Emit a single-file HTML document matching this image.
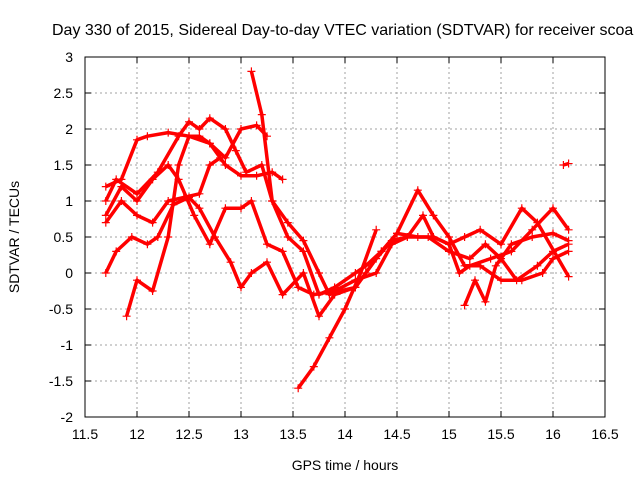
<!DOCTYPE html>
<html><head><meta charset="utf-8"><style>
body{margin:0;background:#fff}
svg text{font-family:"Liberation Sans",sans-serif;font-size:14px;fill:#000}
</style></head><body>
<svg id="chart" width="640" height="480">
<text x="52" y="35" style="font-size:16px">Day 330 of 2015, Sidereal Day-to-day VTEC variation (SDTVAR) for receiver scoa</text>
<text x="345" y="470" text-anchor="middle">GPS time / hours</text>
<text transform="translate(19,237) rotate(-90)" text-anchor="middle">SDTVAR / TECUs</text>
<g id="grid"></g><g id="axes"></g><g id="series"></g>
</svg>
<script>
const xTicks=[11.5,12,12.5,13,13.5,14,14.5,15,15.5,16,16.5];
const yTicks=[-2,-1.5,-1,-0.5,0,0.5,1,1.5,2,2.5,3];
const xTickLabels=["11.5","12","12.5","13","13.5","14","14.5","15","15.5","16","16.5"];
const yTickLabels=["-2","-1.5","-1","-0.5","0","0.5","1","1.5","2","2.5","3"];
const s1=[[11.7,0],[11.8,0.3],[11.95,0.5],[12.1,0.4],[12.2,0.5],[12.35,0.95],[12.5,1.05],[12.6,0.9],[12.75,0.5],[12.9,0.15],[13.0,-0.2],[13.1,0],[13.25,0.15],[13.4,-0.3],[13.6,0],[13.75,-0.6],[13.9,-0.3],[14.1,-0.2],[14.3,0.2],[14.45,0.45],[14.6,0.5],[14.75,0.8],[14.85,0.5],[15.0,0.4],[15.1,0],[15.2,0.1],[15.4,0.2],[15.6,0.3],[15.8,0.6],[16.0,0.9],[16.15,0.6]];
const s2=[[11.7,1.0],[11.8,1.3],[12.0,1.1],[12.2,1.4],[12.4,1.9],[12.5,2.1],[12.6,2.0],[12.7,2.15],[12.85,2.0],[12.95,1.7],[13.05,1.4],[13.2,1.5],[13.3,1.0],[13.45,0.5],[13.6,0.3],[13.75,-0.3],[13.9,-0.2],[14.1,0],[14.2,0.1],[14.35,0.3],[14.5,0.55],[14.7,1.15],[14.85,0.8],[15.0,0.5],[15.15,0.1],[15.3,0.1],[15.5,-0.1],[15.7,-0.1],[15.9,0],[16.0,0.2],[16.15,0.3]];
const s3=[[11.7,0.8],[11.85,1.2],[12.0,1.0],[12.15,1.3],[12.3,1.5],[12.4,1.3],[12.55,0.8],[12.7,0.4],[12.85,0.9],[13.0,0.9],[13.1,1.0],[13.25,0.4],[13.4,0.3],[13.55,-0.2],[13.7,-0.3],[13.9,-0.25],[14.1,-0.1],[14.3,0],[14.45,0.4],[14.6,0.5],[14.8,0.5],[15.0,0.3],[15.2,0.2],[15.35,0.4],[15.5,0.2],[15.65,-0.1],[15.85,0.1],[16.0,0.3],[16.15,0.4]];
const s4=[[11.7,1.2],[11.85,1.3],[12.0,1.85],[12.1,1.9],[12.3,1.95],[12.5,1.9],[12.7,1.8],[12.85,1.5],[13.0,1.35],[13.15,1.35],[13.3,1.4],[13.4,1.3]];
const s5=[[11.7,0.7],[11.85,1.0],[12.0,0.8],[12.15,0.7],[12.3,1.0],[12.45,1.05],[12.6,1.1],[12.7,1.5],[12.8,1.6]];
const s6=[[11.9,-0.6],[12.0,-0.1],[12.15,-0.25],[12.3,0.5],[12.4,1.5],[12.5,1.9],[12.6,1.9],[12.7,1.8],[12.85,1.6],[13.0,2.0],[13.15,2.05],[13.25,1.9]];
const s7=[[13.1,2.8],[13.2,2.2],[13.3,1.0],[13.45,0.7],[13.6,0.45],[13.75,0.0],[13.85,-0.3],[13.95,-0.25],[14.1,-0.2],[14.2,0],[14.35,0.3],[14.5,0.55],[14.7,0.5],[14.85,0.5],[15.0,0.4],[15.15,0.5],[15.3,0.6],[15.5,0.4],[15.7,0.9],[15.85,0.7],[16.15,-0.05]];
const s8=[[13.55,-1.6],[13.7,-1.3],[13.85,-0.9],[14.0,-0.5],[14.15,0],[14.3,0.6]];
const s9=[[15.15,-0.45],[15.25,-0.1],[15.35,-0.4],[15.45,0.1],[15.6,0.4],[15.8,0.5],[16.0,0.55],[16.15,0.45]];
const s10=[[16.1,1.5],[16.15,1.52]];
const allSeries=[s1,s2,s3,s4,s5,s6,s7,s8,s9,s10];
const L=85,R=605,T=57,B=417,X0=11.5,X1=16.5,Y0=-2,Y1=3;
const sx=v=>L+(v-X0)/(X1-X0)*(R-L);
const sy=v=>B-(v-Y0)/(Y1-Y0)*(B-T);
const NS="http://www.w3.org/2000/svg";
function mk(tag,at,parent){const e=document.createElementNS(NS,tag);for(const k in at)e.setAttribute(k,at[k]);parent.appendChild(e);return e;}
const grid=document.getElementById('grid'),axes=document.getElementById('axes'),ser=document.getElementById('series');
xTicks.forEach((t,i)=>{const x=sx(t);
 if(i>0&&i<xTicks.length-1){const g=mk('line',{x1:x,x2:x,y1:T,y2:B,stroke:'#a0a0a0','stroke-dasharray':'2,3','stroke-width':1},grid);
 
 }
 mk('line',{x1:x,x2:x,y1:B,y2:B-6,stroke:'#000'},axes);mk('line',{x1:x,x2:x,y1:T,y2:T+6,stroke:'#000'},axes);
 const tx=mk('text',{x:x,y:B+22,'text-anchor':'middle'},axes);tx.textContent=xTickLabels[i];
 
 });
yTicks.forEach((t,i)=>{const y=sy(t);
 if(i>0&&i<yTicks.length-1){const g=mk('line',{x1:L,x2:R,y1:y,y2:y,stroke:'#a0a0a0','stroke-dasharray':'2,3','stroke-width':1},grid);
 
 }
 mk('line',{x1:L,x2:L+6,y1:y,y2:y,stroke:'#000'},axes);mk('line',{x1:R,x2:R-6,y1:y,y2:y,stroke:'#000'},axes);
 const tx=mk('text',{x:L-12,y:y+5,'text-anchor':'end'},axes);tx.textContent=yTickLabels[i];
 
 });
const fr=mk('rect',{x:L,y:T,width:R-L,height:B-T,fill:'none',stroke:'#000'},axes);


allSeries.forEach((s,i)=>{
 const g=mk('g',{},ser);
 
 
 mk('polyline',{points:s.map(p=>sx(p[0])+','+sy(p[1])).join(' '),fill:'none',stroke:'#ff0000','stroke-width':3.5,'stroke-linejoin':'round'},g);
 s.forEach(p=>{const x=sx(p[0]),y=sy(p[1]);
  mk('path',{d:`M${x-4},${y}h8M${x},${y-4}v8`,stroke:'#ff0000','stroke-width':1.2},g);});
});
</script>
</body></html>
